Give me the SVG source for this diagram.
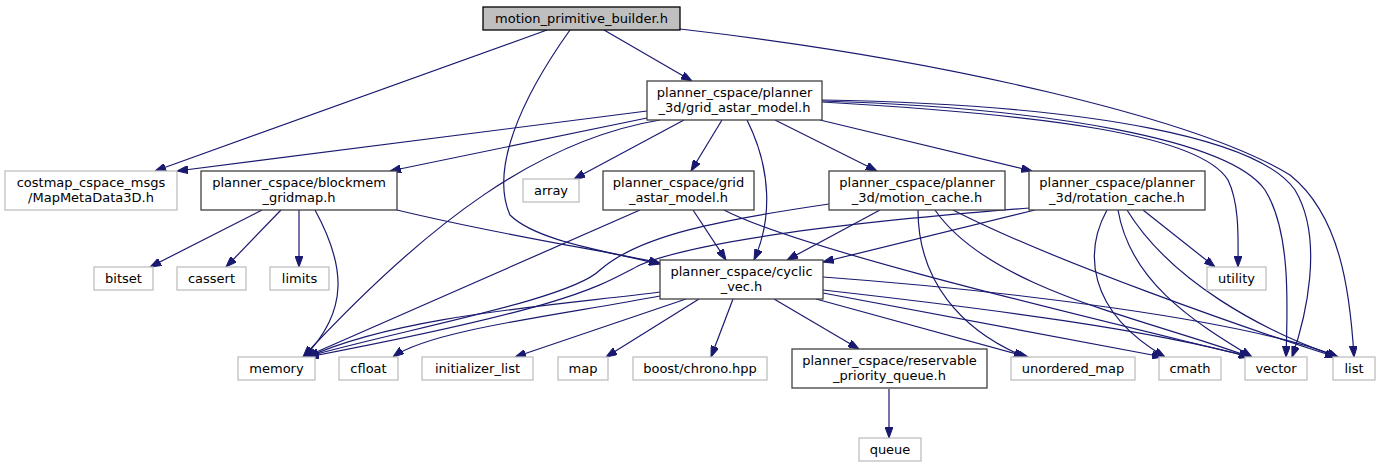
<svg xmlns="http://www.w3.org/2000/svg" width="1382" height="469" viewBox="0 0 1382 469">
<style>
text{font-family:"DejaVu Sans","Liberation Sans",sans-serif;font-size:13px;fill:#000;text-anchor:middle}
.n rect{fill:#fff;stroke:#404040;stroke-width:1.3}
.g rect{fill:#fff;stroke:#bfbfbf;stroke-width:1.3}
.r rect{fill:#bfbfbf;stroke:#000;stroke-width:1.3}
#edges path{fill:none;stroke:#191970;stroke-width:1.2;marker-end:url(#ah)}
</style>
<defs>
<marker id="ah" markerUnits="userSpaceOnUse" markerWidth="11" markerHeight="8" refX="11" refY="4" orient="auto">
<path d="M0,0 L11,4 L0,8 z" fill="#191970" stroke="#191970"/>
</marker>
</defs>
<rect width="1382" height="469" fill="#fff"/>
<g id="edges">
<path d="M604,30 L692,81"/>
<path d="M547,30 L155,171"/>
<path d="M570,30 C520,100 490,170 510,215 C535,240 600,250 660,264"/>
<path d="M680,29 C950,60 1200,120 1290,175 C1340,215 1350,290 1354,357"/>
<path d="M647,111 L177,171"/>
<path d="M647,118 L390,171"/>
<path d="M684,120 L574,179"/>
<path d="M660,120 C540,140 430,220 303,357"/>
<path d="M722,120 L691,171"/>
<path d="M747,120 C772,170 772,220 754,260"/>
<path d="M775,120 L877,171"/>
<path d="M820,120 L1032,171"/>
<path d="M822,102 C1050,115 1200,135 1228,180 C1240,205 1238,240 1238,267"/>
<path d="M822,101 C1050,108 1230,140 1265,190 C1290,230 1288,300 1286,357"/>
<path d="M822,100 C1100,105 1260,140 1295,190 C1325,240 1305,320 1292,357"/>
<path d="M262,210 L150,267"/>
<path d="M281,210 L226,267"/>
<path d="M299,210 L299,267"/>
<path d="M315,210 C345,265 350,310 304,357"/>
<path d="M397,210 C500,235 600,250 660,263"/>
<path d="M640,210 L305,357"/>
<path d="M693,210 L726,260"/>
<path d="M724,210 C800,250 1100,320 1250,357"/>
<path d="M829,204 C720,220 640,235 600,270 C570,300 400,330 306,357"/>
<path d="M880,210 L787,260"/>
<path d="M918,210 C918,280 960,330 1025,357"/>
<path d="M935,210 C990,290 1150,320 1250,357"/>
<path d="M953,210 C1050,260 1250,330 1336,357"/>
<path d="M1030,208 C850,222 700,240 640,265 C600,285 580,305 308,357"/>
<path d="M1035,210 L823,262"/>
<path d="M1107,210 C1085,250 1085,310 1165,357"/>
<path d="M1118,210 C1130,280 1190,320 1252,357"/>
<path d="M1127,210 C1170,280 1260,330 1338,357"/>
<path d="M1143,210 L1215,267"/>
<path d="M660,292 C560,305 400,315 308,357"/>
<path d="M660,296 C560,315 430,330 393,357"/>
<path d="M686,299 L515,357"/>
<path d="M699,299 L606,357"/>
<path d="M733,299 L711,357"/>
<path d="M774,299 L859,349"/>
<path d="M816,299 L1028,357"/>
<path d="M823,293 L1163,357"/>
<path d="M823,290 C1000,310 1150,330 1250,357"/>
<path d="M823,277 C1000,290 1250,320 1338,357"/>
<path d="M889,389 L889,438"/>
</g>
<g id="mpb" class="r"><rect x="483" y="7" width="197" height="23"/><text x="581.5" y="23">motion_primitive_builder.h</text></g>
<g id="g3" class="n"><rect x="647" y="81" width="175" height="39"/><text x="734.5" y="97">planner_cspace/planner</text><text x="734.5" y="112">_3d/grid_astar_model.h</text></g>
<g id="costmap" class="g"><rect x="5" y="171" width="172" height="39"/><text x="91" y="187">costmap_cspace_msgs</text><text x="91" y="202">/MapMetaData3D.h</text></g>
<g id="blockmem" class="n"><rect x="201" y="171" width="196" height="39"/><text x="299" y="187">planner_cspace/blockmem</text><text x="299" y="202">_gridmap.h</text></g>
<g id="array" class="g"><rect x="523" y="179" width="56" height="23"/><text x="551" y="195">array</text></g>
<g id="g2" class="n"><rect x="603" y="171" width="151" height="39"/><text x="678.5" y="187">planner_cspace/grid</text><text x="678.5" y="202">_astar_model.h</text></g>
<g id="mc" class="n"><rect x="829" y="171" width="176" height="39"/><text x="917" y="187">planner_cspace/planner</text><text x="917" y="202">_3d/motion_cache.h</text></g>
<g id="rc" class="n"><rect x="1029" y="171" width="176" height="39"/><text x="1117" y="187">planner_cspace/planner</text><text x="1117" y="202">_3d/rotation_cache.h</text></g>
<g id="cv" class="n"><rect x="660" y="260" width="163" height="39"/><text x="741.5" y="276">planner_cspace/cyclic</text><text x="741.5" y="291">_vec.h</text></g>
<g id="bitset" class="g"><rect x="94" y="267" width="59" height="23"/><text x="123.5" y="283">bitset</text></g>
<g id="cassert" class="g"><rect x="177" y="267" width="69" height="23"/><text x="211.5" y="283">cassert</text></g>
<g id="limits" class="g"><rect x="270" y="267" width="59" height="23"/><text x="299.5" y="283">limits</text></g>
<g id="utility" class="g"><rect x="1207" y="267" width="59" height="23"/><text x="1236.5" y="283">utility</text></g>
<g id="memory" class="g"><rect x="238" y="357" width="77" height="23"/><text x="276.5" y="373">memory</text></g>
<g id="cfloat" class="g"><rect x="339" y="357" width="59" height="23"/><text x="368.5" y="373">cfloat</text></g>
<g id="initlist" class="g"><rect x="422" y="357" width="111" height="23"/><text x="477.5" y="373">initializer_list</text></g>
<g id="map" class="g"><rect x="558" y="357" width="50" height="23"/><text x="583" y="373">map</text></g>
<g id="chrono" class="g"><rect x="633" y="357" width="134" height="23"/><text x="700" y="373">boost/chrono.hpp</text></g>
<g id="rpq" class="n"><rect x="792" y="349" width="195" height="39"/><text x="889.5" y="365">planner_cspace/reservable</text><text x="889.5" y="380">_priority_queue.h</text></g>
<g id="umap" class="g"><rect x="1011" y="357" width="124" height="23"/><text x="1073" y="373">unordered_map</text></g>
<g id="cmath" class="g"><rect x="1159" y="357" width="62" height="23"/><text x="1190" y="373">cmath</text></g>
<g id="vector" class="g"><rect x="1245" y="357" width="62" height="23"/><text x="1276" y="373">vector</text></g>
<g id="list" class="g"><rect x="1333" y="357" width="42" height="23"/><text x="1354" y="373">list</text></g>
<g id="queue" class="g"><rect x="859" y="438" width="62" height="23"/><text x="890" y="454">queue</text></g>
</svg>
